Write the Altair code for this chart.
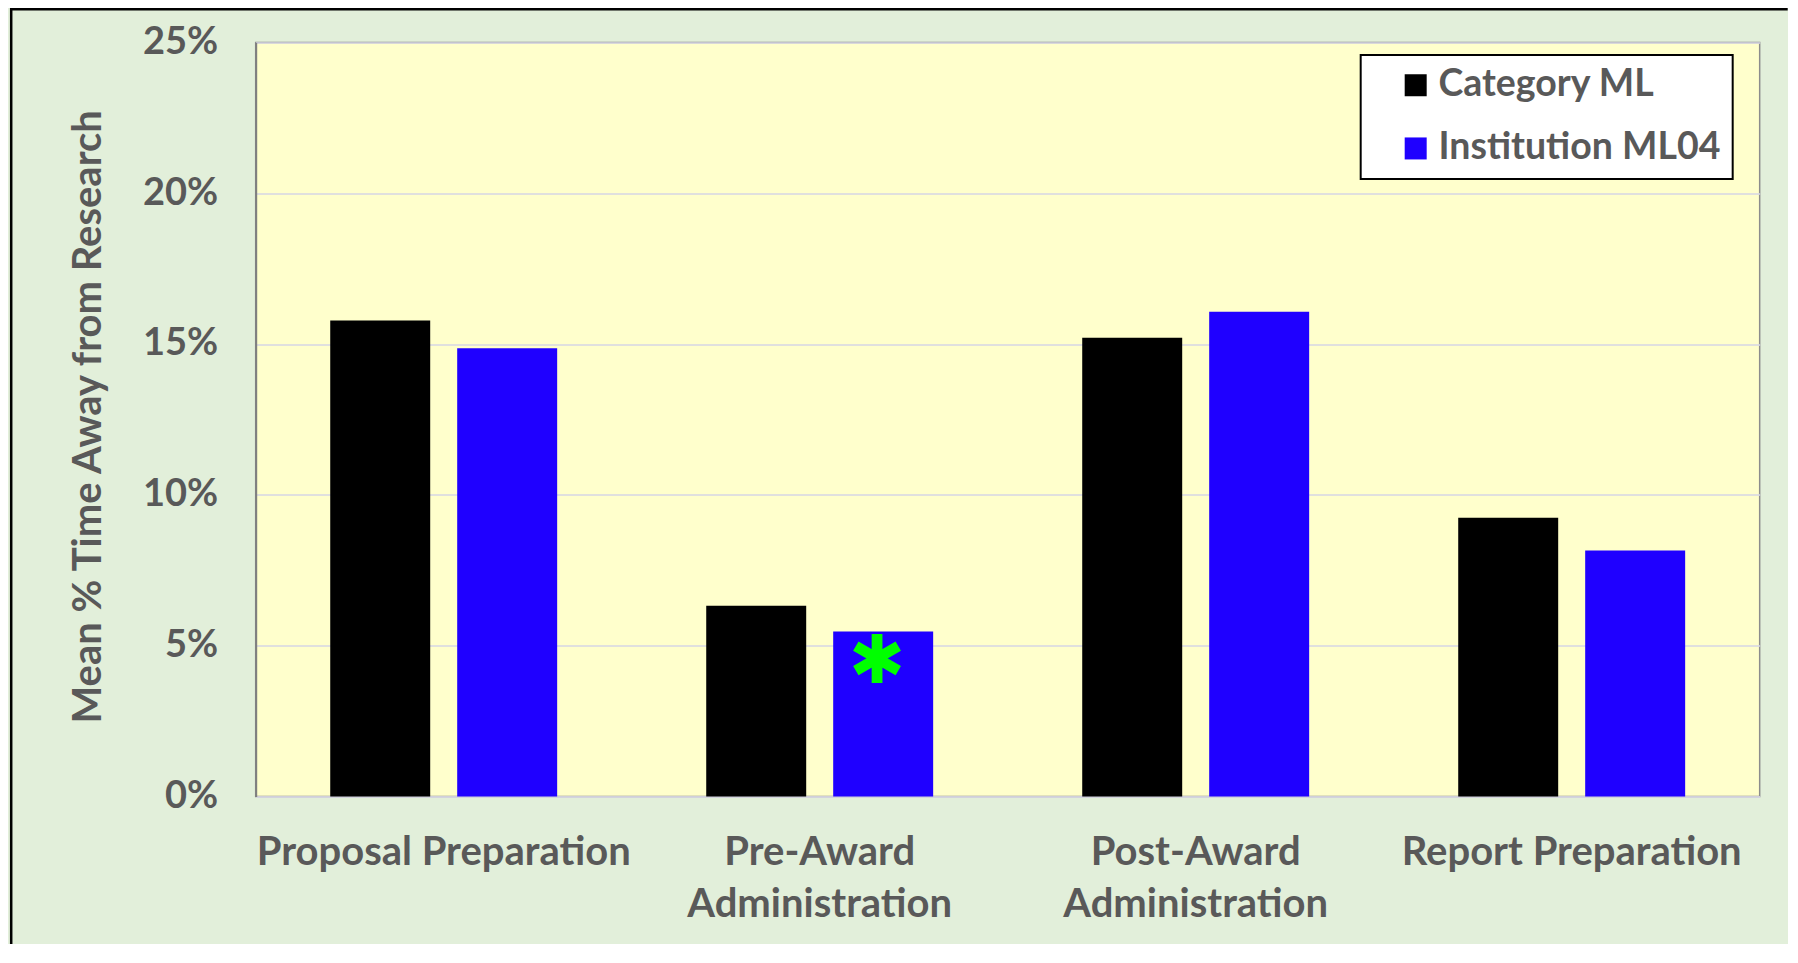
import altair as alt
import pandas as pd

# ---- data ----
categories = ["Proposal Preparation", "Pre-Award Administration",
              "Post-Award Administration", "Report Preparation"]
series = ["Category ML", "Institution ML04"]
category_ml = [15.78, 6.32, 15.21, 9.24]
institution_ml04 = [14.86, 5.47, 16.07, 8.15]
y_ticks = [0, 5, 10, 15, 20, 25]
bar_colors = ["#000000", "#1F00FF"]
star_category = "Pre-Award Administration"
star_series = "Institution ML04"

rows = []
for c, a, b in zip(categories, category_ml, institution_ml04):
    rows.append({"category": c, "series": series[0], "value": a})
    rows.append({"category": c, "series": series[1], "value": b})
df = pd.DataFrame(rows)

W, H = 1504, 754
PAD = {"left": 247.7, "top": 34.4, "right": 28, "bottom": 148}
FONT = "Lato"
TEXT = "#595959"

# six-armed asterisk symbol (drawn slightly left of the bar centre)
STAR = ("M-0.47,-1L-0.03,-1L-0.03,1L-0.47,1Z"
        "M0.726,0.31L0.506,0.69L-1.226,-0.31L-1.006,-0.69Z"
        "M0.506,-0.69L0.726,-0.31L-1.006,0.69L-1.226,0.31Z")

x_enc = alt.X(
    "category:N", sort=categories,
    scale=alt.Scale(paddingInner=0, paddingOuter=0),
    axis=alt.Axis(
        title=None, labelAngle=0, labelFont=FONT, labelFontSize=40,
        labelFontWeight="bold", labelColor=TEXT, labelPadding=36.5,
        labelLineHeight=52, labelLimit=800, labelOverlap=False,
        ticks=False, domainColor="#D3D3DD", domainWidth=1.5, grid=False,
        labelExpr="indexof(datum.label, 'Award') >= 0 ? split(datum.label, ' ') : datum.label",
    ),
)
xo_enc = alt.XOffset("series:N", sort=series,
                     scale=alt.Scale(paddingInner=0.2126, paddingOuter=0.587))
y_enc = alt.Y(
    "value:Q",
    scale=alt.Scale(domain=[0, 25], nice=False),
    axis=alt.Axis(
        title="Mean % Time Away from Research", values=y_ticks,
        labelExpr="datum.value + '%'", labelFont=FONT, labelFontSize=38,
        labelFontWeight="bold", labelColor=TEXT, labelPadding=38,
        ticks=False, domainColor="#7F7F7F", domainWidth=2,
        gridColor="#D6D6E4", gridWidth=1.5,
        titleFont=FONT, titleFontSize=40, titleFontWeight="bold",
        titleColor=TEXT, titleX=-155, titleY=374, titleAngle=-90,
        titleAlign="center", titleBaseline="alphabetic",
    ),
)
color_enc = alt.Color(
    "series:N", sort=series,
    scale=alt.Scale(domain=series, range=bar_colors),
    legend=alt.Legend(
        title=None, orient="none", legendX=1105, legendY=12.6,
        symbolType="square", symbolSize=484, symbolStrokeWidth=0,
        labelFont=FONT, labelFontSize=37.5, labelFontWeight="bold",
        labelColor=TEXT, labelLimit=800, padding=11.5,
        symbolOffset=24.75, labelOffset=4,
        rowPadding=24.2, fillColor="#FFFFFF", strokeColor="#000000",
        labelExpr="datum.label + '\u00a0\u00a0\u00a0\u00a0'",
    ),
)

frame_df = pd.DataFrame({"k": [0]})
frame_left = alt.Chart(frame_df).mark_rule(color="#000000", strokeWidth=2.5).encode(
    x=alt.value(-244.5), y=alt.value(-34.4), y2=alt.value(H + PAD["bottom"]),
)
frame_top = alt.Chart(frame_df).mark_rule(color="#000000", strokeWidth=2.5).encode(
    x=alt.value(-245.7), x2=alt.value(W + PAD["right"]), y=alt.value(-33.2),
)

bars = alt.Chart(df).mark_bar().encode(
    x=x_enc, xOffset=xo_enc, y=y_enc, color=color_enc
)

star = alt.Chart(df).transform_filter(
    (alt.datum.category == star_category) & (alt.datum.series == star_series)
).mark_point(
    shape=STAR, size=2401, filled=True, color="#00FF00", opacity=1,
    strokeWidth=0, yOffset=27,
).encode(x=x_enc, xOffset=xo_enc, y=y_enc)

chart = alt.layer(frame_left, frame_top, bars, star).properties(
    width=W, height=H,
    autosize=alt.AutoSizeParams(type="none"),
    padding=PAD,
).configure(
    background="#E2EFDA",
).configure_view(
    fill="#FFFFCC", stroke="#8C8C8C", strokeWidth=1.5,
).configure_legend(
    strokeWidth=2,
)

chart.save("out.html", embed_options={"renderer": "svg", "actions": False})
